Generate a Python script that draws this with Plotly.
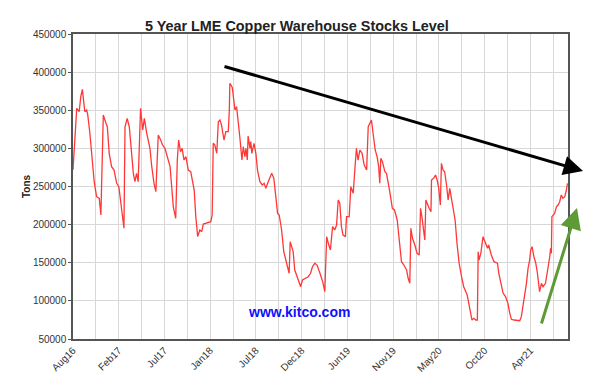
import pandas as pd
import plotly.graph_objects as go

# ---- data ----
start_date = "2016-08-22"
day_offset = [0, 11, 14, 23, 29, 35, 38, 44, 51, 55, 63, 72, 79, 88, 98, 104, 113, 123, 128, 135,
              144, 153, 163, 171, 182, 190, 194, 202, 210, 216, 225, 231, 237, 243, 252, 260, 266, 275, 287, 293,
              302, 309, 314, 318, 327, 334, 343, 351, 362, 368, 374, 383, 389, 394, 401, 407, 414, 421, 430, 439,
              446, 452, 458, 465, 473, 480, 486, 498, 508, 514, 519, 523, 529, 536, 542, 548, 554, 563, 570, 579,
              583, 585, 594, 600, 604, 610, 616, 622, 630, 635, 641, 645, 650, 653, 660, 663, 667, 675, 682, 688,
              697, 706, 713, 719, 728, 741, 749, 755, 763, 769, 778, 786, 793, 800, 806, 810, 816, 821, 827, 834,
              840, 849, 856, 865, 877, 886, 893, 902, 910, 921, 931, 939, 946, 952, 960, 968, 976, 983, 989, 995,
              1001, 1007, 1016, 1020, 1030, 1036, 1045, 1051, 1057, 1063, 1070, 1078, 1086, 1095, 1101, 1107, 1113, 1119, 1127, 1134,
              1140, 1144, 1148, 1154, 1163, 1169, 1175, 1181, 1191, 1199, 1209, 1216, 1225, 1234, 1244, 1250, 1256, 1260, 1266, 1275,
              1283, 1291, 1296, 1302, 1306, 1312, 1316, 1322, 1328, 1335, 1337, 1345, 1352, 1358, 1364, 1370, 1374, 1380, 1386, 1393,
              1399, 1405, 1411, 1417, 1425, 1432, 1440, 1449, 1457, 1465, 1470, 1476, 1482, 1488, 1495, 1502, 1508, 1511, 1514, 1521,
              1529, 1538, 1546, 1550, 1560, 1570, 1583, 1588, 1595, 1604, 1613, 1622, 1629, 1635, 1645, 1657, 1666, 1672, 1678, 1685,
              1691, 1697, 1703, 1707, 1712, 1719, 1726, 1732, 1740, 1747, 1753, 1762, 1769, 1778, 1781, 1784, 1786, 1796, 1803, 1809,
              1815, 1821, 1827, 1834, 1840, 1844]
tons = [272000, 337000, 352600, 348100, 367800, 377400, 363400, 348100, 350300, 343800, 319800, 284700, 256300, 236600, 234500, 212600, 343800, 332900, 328400, 293500,
        276000, 271600, 254200, 249700, 219200, 195200, 328400, 339400, 328400, 306700, 267300, 256300, 267300, 256300, 352600, 324100, 339400, 319800, 300100, 278200,
        254200, 243200, 276000, 317500, 311000, 304400, 300100, 289100, 276000, 249700, 223500, 208300, 284700, 311000, 295600, 300100, 284700, 289100, 271600, 269400,
        254200, 245400, 210400, 184200, 193000, 190700, 200800, 201700, 202500, 203800, 212600, 306700, 304400, 293500, 335000, 337200, 330600, 311000, 321900, 321900,
        350300, 385300, 380000, 359100, 350300, 354700, 337200, 315300, 284700, 302200, 289100, 300100, 284700, 316200, 300100, 308800, 293500, 306700, 293500, 271600,
        256300, 252000, 254200, 247600, 256300, 267300, 260700, 236600, 214800, 212600, 193000, 164500, 153600, 147000, 136200, 177600, 168900, 164500, 140500, 134000,
        127400, 118600, 127400, 129600, 131700, 136200, 144800, 149300, 147000, 136200, 125200, 112000, 184200, 175500, 166700, 197300, 193000, 199500, 232300, 228000,
        197300, 186400, 184200, 210400, 210400, 249700, 241100, 271600, 300100, 284700, 297900, 293500, 278200, 271600, 328400, 332900, 337200, 319800, 297900, 289100,
        276000, 254200, 287000, 282600, 269400, 267300, 256300, 244000, 221400, 219200, 206100, 179800, 151400, 147000, 140500, 129600, 123000, 195200, 182100, 173300,
        162400, 160200, 221400, 208300, 197300, 179800, 232300, 225700, 221400, 217000, 258500, 260700, 265100, 258500, 247600, 225700, 280400, 271600, 269400, 252000,
        232300, 247600, 236600, 223500, 206100, 175500, 149300, 131700, 118600, 112000, 107700, 96800, 85800, 74900, 77100, 74900, 74900, 164500, 153600, 162400,
        184200, 175500, 168900, 173300, 160200, 151400, 149300, 136200, 123000, 109900, 105500, 96800, 83700, 75800, 74900, 74900, 74000, 79300, 92400, 105500,
        123000, 142700, 153600, 166700, 171100, 157900, 149300, 136200, 112000, 123000, 118600, 123000, 136200, 157900, 168900, 162400, 210400, 214800, 223500, 225700,
        230100, 238900, 234500, 236600, 245400, 254200]
tick_labels = ["Aug16", "", "Feb17", "", "Jul17", "", "Jan18", "", "Jul18", "", "Dec18", "",
               "Jun19", "", "Nov19", "", "May20", "", "Oct20", "", "Apr21", ""]

# ---- build ----
start = pd.Timestamp(start_date)
dates = start + pd.to_timedelta(day_offset, unit="D")
grid_step_days = 85.3
tickvals = [start + pd.Timedelta(days=k * grid_step_days) for k in range(len(tick_labels))]
end = start + pd.Timedelta(days=1846)

W, H = 589, 379
L, R, T, B = 73, 21, 34, 40

fig = go.Figure()
fig.add_trace(go.Scatter(x=dates, y=tons, mode="lines",
                         line=dict(color="rgb(255,55,55)", width=1.3),
                         hoverinfo="skip", showlegend=False))

axis_font = dict(family="Liberation Sans, Arial, sans-serif", size=10, color="#333333")
fig.update_layout(
    width=W, height=H,
    margin=dict(l=L, r=R, t=T, b=B, autoexpand=False),
    paper_bgcolor="white", plot_bgcolor="white",
    title=dict(text="<b>5 Year LME Copper Warehouse Stocks Level</b>",
               x=0.504, xanchor="center", y=1 - 26 / H, yanchor="middle",
               font=dict(family="Liberation Sans, Arial, sans-serif", size=14.4, color="#222222")),
    xaxis=dict(type="date", range=[start, end], tickmode="array", tickvals=tickvals, ticktext=tick_labels,
               tickangle=-45, tickfont=axis_font, showgrid=True, gridcolor="#d8d8d8", gridwidth=1,
               showline=True, linecolor="#555555", linewidth=1.5, mirror=True,
               ticks="", automargin=False, zeroline=False),
    yaxis=dict(range=[50000, 450000], dtick=50000, tickformat="d", tickfont=axis_font,
               showgrid=True, gridcolor="#d8d8d8", gridwidth=1,
               showline=True, linecolor="#555555", linewidth=1.5, mirror=True,
               ticks="outside", ticklen=3, tickcolor="#555555", automargin=False, zeroline=False,
               title=dict(text="<b>Tons</b>", standoff=0,
                          font=dict(family="Liberation Sans, Arial, sans-serif", size=10, color="#222222"))),
)

pw, ph = W - L - R, H - T - B
def px(x):
    return (x - L) / pw
def py(y):
    return (H - B - y) / ph

fig.add_annotation(text="<b>www.kitco.com</b>", xref="paper", yref="paper",
                   x=px(299), y=py(322), showarrow=False,
                   font=dict(family="Liberation Sans, Arial, sans-serif", size=14, color="#1010ff"))

# black trend arrow
fig.add_annotation(text="", xref="paper", yref="paper", x=px(583), y=py(171),
                   ax=223 - 583, ay=66 - 171, axref="pixel", ayref="pixel",
                   showarrow=True, arrowhead=2, arrowsize=1.3, arrowwidth=3, arrowcolor="black", standoff=0)
# green arrow
fig.add_annotation(text="", xref="paper", yref="paper", x=px(577), y=py(208),
                   ax=541 - 577, ay=325 - 208, axref="pixel", ayref="pixel",
                   showarrow=True, arrowhead=2, arrowsize=1.4, arrowwidth=3, arrowcolor="#5e9a35", standoff=0)

fig.write_html("out.html", config={"displayModeBar": False},
               post_script="document.body.style.margin='0px';")
